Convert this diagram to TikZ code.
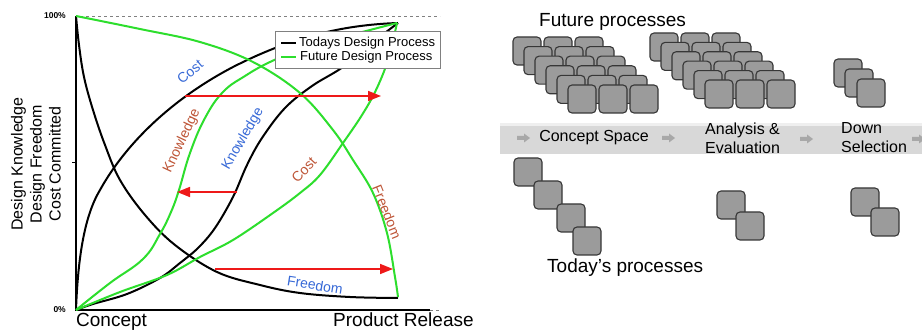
\documentclass[tikz,border=0pt]{standalone}
\usepackage{fontspec}
\setmainfont{Liberation Sans}
\usetikzlibrary{arrows.meta}
\definecolor{tgreen}{RGB}{45,222,45}
\definecolor{tblue}{RGB}{55,105,215}
\definecolor{tbrown}{RGB}{190,85,55}
\definecolor{tred}{RGB}{238,25,25}
\definecolor{procfill}{RGB}{155,155,155}
\definecolor{procline}{RGB}{55,55,55}
\definecolor{bandfill}{RGB}{216,216,216}
\definecolor{chevfill}{RGB}{168,168,168}
\begin{document}
\begin{tikzpicture}[x=1pt,y=-1pt,
  curveT/.style={black,line width=2pt,line join=round},
  curveF/.style={tgreen,line width=2pt,line join=round},
  redarrow/.style={tred,line width=1.6pt,-{Triangle[length=13pt,width=10pt]}},
  lbl/.style={font=\fontsize{14}{14}\selectfont,inner sep=0pt},
  proc/.style={draw=procline,fill=procfill,line width=1.1pt,rounded corners=4pt,minimum size=28pt,inner sep=0pt},
  chev/.style={fill=chevfill,draw=none},
  bigtxt/.style={font=\fontsize{19}{19}\selectfont,inner sep=0pt},
  stagetxt/.style={font=\fontsize{16}{19}\selectfont,inner sep=0pt,align=left}]
\useasboundingbox (0,0) rectangle (922,331);
\fill[white] (0,0) rectangle (922,331);

% ---------- left chart ----------
\draw[gray,dashed,line width=0.8pt] (80,16) -- (440,16);
\draw[gray,dashed,line width=0.8pt] (430,310) -- (440,310);
\draw[black,line width=1.4pt] (76,16) -- (76,310) -- (430,310);
\draw[black,line width=1pt] (72,163) -- (76,163);
\node[font=\bfseries\fontsize{8.5}{9}\selectfont,anchor=east,inner sep=0pt] (p100) at (66,16) {100\%};
\node[font=\bfseries\fontsize{8.5}{9}\selectfont,anchor=east,inner sep=0pt] (p0) at (66,310) {0\%};
\node[font=\fontsize{16}{19}\selectfont,rotate=90,align=center,inner sep=0pt] (ylab) at (36,164) {Design Knowledge\\Design Freedom\\Cost Committed};
\node[bigtxt,anchor=north west] (concept) at (76,313) {Concept};
\node[bigtxt,anchor=north west] (release) at (333,313) {Product Release};

% today curves (black)
\draw[curveT] plot[smooth,tension=0.6] coordinates {(76,16) (79,45) (84,77) (93,110) (105,145) (120,180) (145,215) (175,245) (217,272) (260,285) (300,293) (350,297) (398,298)};
\draw[curveT] (76,310) .. controls (78,255) and (85,215) .. (100,190)
               .. controls (125,145) and (170,100) .. (233,67)
               .. controls (290,38) and (340,25) .. (398,23);
\draw[curveT] plot[smooth,tension=0.6] coordinates {(76,310) (93,304) (127,294) (160,278) (180,263) (198,248) (215,228) (233,197) (247,165) (262,138) (285,108) (312,86) (343,67) (372,43) (398,23)};
% future curves (green)
\draw[curveF] plot[smooth,tension=0.6] coordinates {(76,16) (140,29) (200,42) (253,62) (300,93) (333,130) (353,160) (373,193) (387,233) (395,277) (398,297)};
\draw[curveF] plot[smooth,tension=0.6] coordinates {(76,310) (120,292) (167,275) (200,257) (233,240) (273,213) (300,193) (320,175) (343,143) (362,115) (376,90) (388,60) (397,23)};
\draw[curveF] plot[smooth,tension=0.7] coordinates {(76,310) (110,283) (143,259) (160,234) (171,212) (179,190) (190,153) (205,118) (223,92) (245,76) (270,62) (300,50) (340,38) (397,23)};

% red arrows
\coordinate (a1s) at (185,96);  \coordinate (a1e) at (381,96);
\coordinate (a2s) at (237,192); \coordinate (a2e) at (177,192);
\coordinate (a3s) at (215,269); \coordinate (a3e) at (393,269);
\draw[redarrow] (a1s) -- (a1e);
\draw[redarrow] (a2s) -- (a2e);
\draw[redarrow] (a3s) -- (a3e);

% curve labels
\node[lbl,text=tblue,rotate=40] (costT) at (190,72) {Cost};
\node[lbl,text=tbrown,rotate=65] (knowF) at (182,141) {Knowledge};
\node[lbl,text=tblue,rotate=60] (knowT) at (243,139) {Knowledge};
\node[lbl,text=tbrown,rotate=47] (costF) at (304,170) {Cost};
\node[lbl,text=tbrown,rotate=-68] (freeF) at (387,212) {Freedom};
\node[lbl,text=tblue,rotate=-9] (freeT) at (315,285) {Freedom};

% legend
\node[draw=gray,fill=white,line width=0.8pt,minimum width=165pt,minimum height=37pt,inner sep=0pt] (legend) at (357.5,49.5) {};
\draw[black,line width=2pt] (281,43) -- (296,43);
\draw[tgreen,line width=2pt] (281,57) -- (296,57);
\node[font=\fontsize{13}{13}\selectfont,anchor=west,inner sep=0pt] (legT) at (299,43) {Todays Design Process};
\node[font=\fontsize{13}{13}\selectfont,anchor=west,inner sep=0pt] (legF) at (300,57) {Future Design Process};

% ---------- right part ----------
\node[bigtxt,anchor=west] (future) at (539,22) {Future processes};
\fill[bandfill] (500,123) rectangle (922,154);
\fill[white!60!bandfill] (500,123) rectangle (922,126);
\foreach \cx/\cy [count=\i] in {517/138, 662/138, 800/139, 912/139} {
  \fill[chev] (\cx,\cy-2) -- (\cx+7,\cy-2) -- (\cx+7,\cy-4.5) -- (\cx+13,\cy) -- (\cx+7,\cy+4.5) -- (\cx+7,\cy+2) -- (\cx,\cy+2) -- cycle;
}
\node[stagetxt,anchor=center] (cspace) at (594,138) {Concept Space};
\node[stagetxt,anchor=west] (anal) at (705,138) {Analysis \&\\Evaluation};
\node[stagetxt,anchor=west] (down) at (841,138) {Down\\Selection};

% future grids
\foreach \r in {0,...,5} {
  \foreach \c in {0,1,2} {
    \node[proc] (ga-\r-\c) at (527+11*\r+31*\c, 51+9.6*\r) {};
  }
}
\foreach \r in {0,...,5} {
  \foreach \c in {0,1,2} {
    \node[proc] (gb-\r-\c) at (664+11*\r+31*\c, 47+9.4*\r) {};
  }
}
\node[proc] (gc-0) at (848,73) {};
\node[proc] (gc-1) at (859,83) {};
\node[proc] (gc-2) at (871,93) {};

% today's squares
\node[proc] (ta-0) at (528,172) {};
\node[proc] (ta-1) at (548,195) {};
\node[proc] (ta-2) at (571,218) {};
\node[proc] (ta-3) at (587,241) {};
\node[proc] (tb-0) at (731,205) {};
\node[proc] (tb-1) at (750,226) {};
\node[proc] (tc-0) at (865,202) {};
\node[proc] (tc-1) at (885,222) {};

\node[bigtxt,anchor=west] (today) at (547,268) {Today's processes};
\end{tikzpicture}
\end{document}
